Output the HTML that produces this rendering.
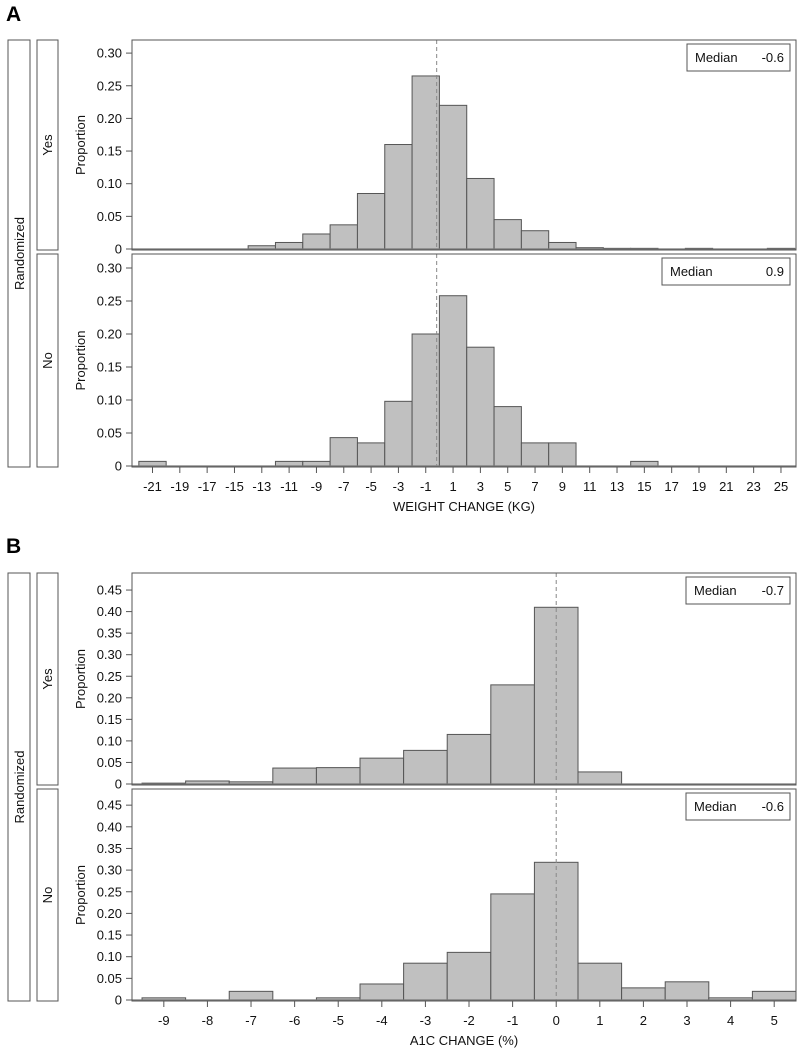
<!DOCTYPE html>
<html><head><meta charset="utf-8"><style>
body{margin:0;background:#fff;}
svg{display:block;font-family:"Liberation Sans",Arial,sans-serif;}
</style></head><body>
<svg id="chart" width="797" height="1050" xmlns="http://www.w3.org/2000/svg">
<text x="6" y="21" font-size="21" font-weight="bold">A</text>
<text x="6" y="553" font-size="21" font-weight="bold">B</text>
</svg>
<script>
// Panel A data (weight change, bins of 2 kg centered at odd values)
const weightCenters = [-21,-19,-17,-15,-13,-11,-9,-7,-5,-3,-1,1,3,5,7,9,11,13,15,17,19,21,23,25];
const weightYes = [0,0,0,0,0.005,0.01,0.023,0.037,0.085,0.16,0.265,0.22,0.108,0.045,0.028,0.01,0.002,0.001,0.001,0,0.001,0,0,0.001];
const weightNo = [0.007,0,0,0,0,0.007,0.007,0.043,0.035,0.098,0.2,0.258,0.18,0.09,0.035,0.035,0,0,0.007,0,0,0,0,0];
const weightYTicks = [0,0.05,0.10,0.15,0.20,0.25,0.30];
const weightYLabels = ["0","0.05","0.10","0.15","0.20","0.25","0.30"];
const weightMedians = ["-0.6","0.9"];
// Panel B data (A1C change, bins of 1% centered at integers)
const a1cCenters = [-9,-8,-7,-6,-5,-4,-3,-2,-1,0,1,2,3,4,5];
const a1cYes = [0.002,0.007,0.005,0.037,0.038,0.06,0.078,0.115,0.23,0.41,0.028,0,0,0,0];
const a1cNo = [0.005,0,0.02,0,0.005,0.037,0.085,0.11,0.245,0.318,0.085,0.028,0.042,0.005,0.02];
const a1cYTicks = [0,0.05,0.10,0.15,0.20,0.25,0.30,0.35,0.40,0.45];
const a1cYLabels = ["0","0.05","0.10","0.15","0.20","0.25","0.30","0.35","0.40","0.45"];
const a1cMedians = ["-0.7","-0.6"];

const svg = document.getElementById('chart');
const NS = 'http://www.w3.org/2000/svg';
function mk(tag, attrs, parent){
  const e = document.createElementNS(NS, tag);
  for (const k in attrs) e.setAttribute(k, attrs[k]);
  (parent||svg).appendChild(e);
  return e;
}
const PL = 132, PR = 796;

function figure(cfg){
  const xs = v => PL + (v - cfg.xmin) / (cfg.xmax - cfg.xmin) * (PR - PL);
  const s1 = mk('rect',{x:8,y:cfg.panels[0].top,width:22,height:cfg.panels[1].bottom-cfg.panels[0].top,fill:'#fff',stroke:'#555'});
  
  
  const mid = (cfg.panels[0].top+cfg.panels[1].bottom)/2;
  const t1 = mk('text',{x:0,y:0,'font-size':13,'text-anchor':'middle',transform:`translate(24,${mid}) rotate(-90)`,fill:'#111'});
  t1.textContent = 'Randomized';
  
  
  cfg.panels.forEach((p, i) => {
    const ys = v => p.y0 - v * p.scale;
    const g = mk('g',{});
    
    
    const st = mk('rect',{x:37,y:p.top,width:21,height:p.bottom-p.top,fill:'#fff',stroke:'#555'},g);
    
    
    const sl = mk('text',{x:0,y:0,'font-size':13,'text-anchor':'middle',transform:`translate(52,${(p.top+p.bottom)/2}) rotate(-90)`,fill:'#111'},g);
    sl.textContent = p.name;
    
    
    const yl = mk('text',{x:0,y:0,'font-size':13,'text-anchor':'middle',transform:`translate(85,${(p.top+p.bottom)/2}) rotate(-90)`,fill:'#111'},g);
    yl.textContent = 'Proportion';
    
    
    p.values.forEach((v, j) => {
      const c = cfg.centers[j];
      if (v <= 0) return;
      const x0 = xs(c - cfg.bw/2), x1 = xs(c + cfg.bw/2);
      const b = mk('rect',{x:x0,y:ys(v),width:x1-x0,height:p.y0-ys(v),fill:'#c0c0c0',stroke:'#555','stroke-width':1},g);
      
      
    });
    mk('line',{x1:PL,x2:PR,y1:p.y0,y2:p.y0,stroke:'#777','stroke-width':1.3},g);
    const ml = mk('line',{x1:xs(cfg.medX),x2:xs(cfg.medX),y1:p.top,y2:p.y0,stroke:'#888','stroke-dasharray':'4,3'},g);
    
    
    const bx = mk('rect',{x:PL,y:p.top,width:PR-PL,height:p.bottom-p.top,fill:'none',stroke:'#555'},g);
    
    
    cfg.yTicks.forEach((t, k) => {
      const y = ys(t);
      mk('line',{x1:126,x2:PL,y1:y,y2:y,stroke:'#555'},g);
      const tl = mk('text',{x:122,y:y+4.5,'font-size':13,'text-anchor':'end',fill:'#111'},g);
      tl.textContent = cfg.yLabels[k];
      
      
    });
    const lg = mk('g',{},g);
    
    
    mk('rect',{x:p.legX,y:p.top+4,width:790-p.legX,height:27,fill:'#fff',stroke:'#555'},lg);
    const lt = mk('text',{x:p.legX+8,y:p.top+22,'font-size':13,fill:'#111'},lg);
    lt.textContent = 'Median';
    const lv = mk('text',{x:784,y:p.top+22,'font-size':13,'text-anchor':'end',fill:'#111'},lg);
    lv.textContent = cfg.medians[i];
    
    
  });
  const last = cfg.panels[1];
  cfg.xTicks.forEach(t => {
    const x = xs(t);
    mk('line',{x1:x,x2:x,y1:last.bottom,y2:last.bottom+6,stroke:'#555'});
    const tl = mk('text',{x:x,y:last.bottom+24,'font-size':13,'text-anchor':'middle',fill:'#111'});
    tl.textContent = String(t);
    
    
  });
  const xt = mk('text',{x:(PL+PR)/2,y:last.bottom+44,'font-size':13,'text-anchor':'middle',fill:'#111'});
  xt.textContent = cfg.xTitle;
  
  
}

figure({id:'weight', xmin:-22.5, xmax:26.1, bw:2, centers:weightCenters, medX:-0.2,
  xTicks:weightCenters, yTicks:weightYTicks, yLabels:weightYLabels, medians:weightMedians,
  xTitle:'WEIGHT CHANGE (KG)',
  panels:[
    {name:'Yes', top:40, bottom:250, y0:249, scale:653, values:weightYes, legX:687},
    {name:'No', top:254, bottom:467, y0:466, scale:660, values:weightNo, legX:662}
  ]});
figure({id:'a1c', xmin:-9.73, xmax:5.5, bw:1, centers:a1cCenters, medX:0,
  xTicks:a1cCenters, yTicks:a1cYTicks, yLabels:a1cYLabels, medians:a1cMedians,
  xTitle:'A1C CHANGE (%)',
  panels:[
    {name:'Yes', top:573, bottom:785, y0:784, scale:431, values:a1cYes, legX:686},
    {name:'No', top:789, bottom:1001, y0:1000, scale:433, values:a1cNo, legX:686}
  ]});
</script>
</body></html>
